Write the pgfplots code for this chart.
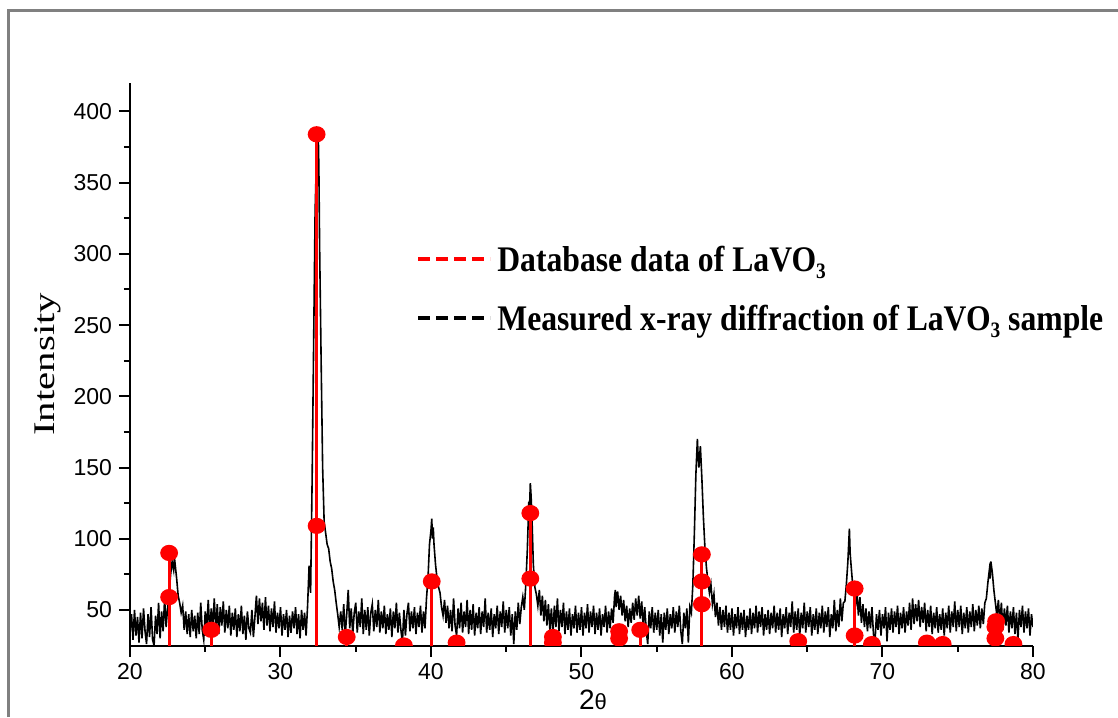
\documentclass[border=0pt]{standalone}
\usepackage{fontspec}
\setmainfont{Liberation Serif}
\setsansfont{Liberation Sans}
\usepackage{pgfplots}
\pgfplotsset{compat=1.18}

\begin{document}
\begin{tikzpicture}
\useasboundingbox (0,0) rectangle (559pt,-358.5pt);
% page frame
\draw[gray, line width=1.35pt] (4.3pt,-358.5pt) -- (4.3pt,-5.3pt) -- (559pt,-5.3pt);

\begin{axis}[
  at={(65pt,-322.75pt)}, anchor=south west,
  scale only axis, width=451.5pt, height=281.25pt,
  xmin=20, xmax=80, ymin=25, ymax=420,
  axis x line=bottom, axis y line=left,
  axis line style={-, line width=1pt},
  xtick={20,30,...,80}, ytick={50,100,...,400},
  minor x tick num=1, minor y tick num=1,
  tick align=outside,
  major tick length=5.5pt, minor tick length=3pt,
  every tick/.style={black, line width=1pt},
  tick label style={font=\sffamily\fontsize{11.5}{13}\selectfont},
  /pgf/number format/assume math mode=true,
  xlabel={\sffamily\fontsize{14}{16}\selectfont 2{\fontsize{11}{13}\selectfont θ}},
  ylabel={\fontsize{15}{17}\selectfont Intensity},
  xlabel style={at={(axis description cs:0.5127,-0.0969)}, anchor=center},
  ylabel style={at={(axis description cs:-0.0908,0.5)}, anchor=center, xscale=1.36},
  clip marker paths=true,
]
% measured diffraction pattern
\addplot[black, line width=0.8pt, mark=none] coordinates {
(20.0,34)(20.1,47)(20.2,29)(20.3,50)(20.4,32)(20.5,45)(20.6,27)(20.7,48)(20.8,30)(20.9,51)
(21.0,35)(21.1,26)(21.2,47)(21.3,31)(21.4,52)(21.5,29)(21.6,25)(21.7,46)(21.8,33)(21.9,55)
(22.0,30)(22.1,49)(22.2,35)(22.3,58)(22.4,38)(22.5,52)(22.6,62)(22.7,75)(22.8,84)(22.9,78)
(22.95,87)(23.0,82)(23.1,72)(23.2,60)(23.3,55)(23.4,48)
(23.5,53)(23.6,36)(23.7,49)(23.8,33)(23.9,47)(24.0,31)(24.1,50)(24.2,35)(24.3,46)(24.4,30)
(24.5,48)(24.6,33)(24.7,55)(24.8,36)(24.9,29)(25.0,49)(25.1,37)(25.2,57)(25.3,34)(25.4,51)
(25.5,38)(25.6,58)(25.7,36)(25.8,54)(25.9,33)(26.0,52)(26.1,39)(26.2,56)(26.3,34)(26.4,50)
(26.5,37)(26.6,53)(26.7,32)(26.8,48)(26.9,36)(27.0,51)(27.1,31)(27.2,47)(27.3,35)(27.4,53)
(27.5,33)(27.6,46)(27.7,29)(27.8,49)(27.9,37)(28.0,34)(28.1,50)(28.2,31)(28.3,45)(28.4,60)
(28.5,40)(28.6,58)(28.7,42)(28.8,55)(28.9,36)(29.0,59)(29.1,39)(29.2,53)(29.3,35)(29.4,51)
(29.5,38)(29.6,56)(29.7,34)(29.8,48)(29.9,37)(30.0,52)(30.1,32)(30.2,47)(30.3,36)(30.4,50)
(30.5,31)(30.6,46)(30.7,34)(30.8,49)(30.9,37)(31.0,52)(31.1,33)(31.2,47)(31.3,30)(31.4,50)
(31.5,36)(31.6,48)(31.7,32)(31.8,53)
(31.9,81)(32.0,62)(32.1,140)(32.2,235)(32.3,330)(32.4,372)(32.5,389)(32.55,360)(32.6,305)(32.7,225)
(32.8,150)(32.9,112)(33.0,104)(33.1,96)(33.2,93)(33.3,84)(33.4,79)(33.5,70)(33.6,64)(33.7,55)
(33.8,47)(33.9,38)
(34.0,49)(34.1,36)(34.2,54)(34.3,32)(34.4,47)(34.5,64)(34.6,37)(34.7,51)(34.8,33)(34.9,48)
(35.0,55)(35.1,34)(35.2,49)(35.3,38)(35.4,58)(35.5,33)(35.6,50)(35.7,36)(35.8,52)(35.9,32)
(36.0,48)(36.1,54)(36.2,35)(36.3,50)(36.4,38)(36.5,57)(36.6,34)(36.7,49)(36.8,37)(36.9,53)
(37.0,33)(37.1,47)(37.2,36)(37.3,51)(37.4,31)(37.5,49)(37.6,37)(37.7,55)(37.8,34)(37.9,48)
(38.0,36)(38.1,27)(38.2,50)(38.3,32)(38.4,47)(38.5,55)(38.6,35)(38.7,49)(38.8,37)(38.9,52)
(39.0,33)(39.1,48)(39.2,38)(39.3,53)(39.4,34)(39.5,49)(39.6,37)(39.7,58)
(39.8,72)(39.9,96)(40.0,106)(40.05,114)(40.1,100)(40.15,108)(40.2,96)(40.3,82)(40.4,72)(40.5,66)
(40.6,62)(40.7,52)(40.8,46)(40.9,57)(41.0,41)(41.1,53)(41.2,37)(41.3,50)(41.4,35)(41.5,58)
(41.6,39)(41.7,32)(41.8,51)(41.9,37)(42.0,55)(42.1,34)(42.2,49)(42.3,38)(42.4,57)(42.5,33)
(42.6,50)(42.7,36)(42.8,54)(42.9,32)(43.0,48)(43.1,37)(43.2,52)(43.3,33)(43.4,49)(43.5,38)
(43.6,58)(43.7,34)(43.8,48)(43.9,36)(44.0,51)(44.1,31)(44.2,47)(44.3,37)(44.4,53)(44.5,33)
(44.6,49)(44.7,38)(44.8,56)(44.9,34)(45.0,50)(45.1,37)(45.2,52)(45.3,32)(45.4,47)(45.5,26)
(45.6,49)(45.7,36)(45.8,55)(45.9,40)(46.0,52)(46.1,59)(46.2,50)(46.3,68)(46.4,92)(46.5,126)
(46.55,122)(46.6,139)(46.65,130)(46.7,118)(46.75,100)(46.8,82)(46.9,66)(47.0,61)
(47.1,53)(47.2,64)(47.3,46)(47.4,60)(47.5,42)(47.6,57)(47.7,39)(47.8,54)(47.9,36)(48.0,51)
(48.1,33)(48.2,53)(48.3,38)(48.4,58)(48.5,35)(48.6,50)(48.7,38)(48.8,55)(48.9,33)(49.0,49)
(49.1,36)(49.2,51)(49.3,32)(49.4,47)(49.5,37)(49.6,53)(49.7,34)(49.8,48)(49.9,36)(50.0,52)
(50.1,32)(50.2,48)(50.3,37)(50.4,54)(50.5,34)(50.6,49)(50.7,38)(50.8,53)(50.9,33)(51.0,48)
(51.1,36)(51.2,51)(51.3,32)(51.4,47)(51.5,38)(51.6,53)(51.7,34)(51.8,49)(51.9,37)(52.0,51)
(52.1,41)(52.2,60)(52.25,64)(52.3,52)(52.4,63)(52.5,50)(52.6,60)(52.7,46)(52.8,57)(52.9,42)
(53.0,53)(53.1,38)(53.2,51)(53.3,41)(53.4,55)(53.5,43)(53.6,58)(53.7,46)(53.8,60)(53.9,44)
(54.0,56)(54.1,38)(54.2,52)(54.3,36)(54.4,26)(54.5,49)(54.6,37)(54.7,52)(54.8,34)(54.9,48)
(55.0,36)(55.1,50)(55.2,32)(55.3,47)(55.4,27)(55.5,48)(55.6,36)(55.7,51)(55.8,33)(55.9,47)
(56.0,37)(56.1,52)(56.2,34)(56.3,49)(56.4,38)(56.5,53)(56.6,35)(56.7,26)(56.8,48)(56.9,37)
(57.0,51)(57.1,27)(57.2,52)(57.3,48)(57.4,68)
(57.5,104)(57.6,145)(57.7,170)(57.75,158)(57.8,150)(57.9,165)(58.0,142)(58.1,115)(58.2,94)(58.3,80)
(58.4,70)(58.5,62)(58.6,68)(58.7,54)(58.8,61)(58.9,45)(59.0,55)
(59.1,39)(59.2,52)(59.3,36)(59.4,50)(59.5,38)(59.6,53)(59.7,34)(59.8,48)(59.9,36)(60.0,51)
(60.1,32)(60.2,47)(60.3,37)(60.4,52)(60.5,33)(60.6,48)(60.7,36)(60.8,50)(60.9,31)(61.0,46)
(61.1,36)(61.2,51)(61.3,33)(61.4,48)(61.5,37)(61.6,53)(61.7,34)(61.8,49)(61.9,38)(62.0,52)
(62.1,32)(62.2,47)(62.3,36)(62.4,50)(62.5,33)(62.6,48)(62.7,37)(62.8,53)(62.9,34)(63.0,48)
(63.1,36)(63.2,51)(63.3,31)(63.4,47)(63.5,37)(63.6,52)(63.7,33)(63.8,48)(63.9,38)(64.0,56)
(64.1,34)(64.2,49)(64.3,36)(64.4,51)(64.5,32)(64.6,48)(64.7,37)(64.8,55)(64.9,34)(65.0,49)
(65.1,38)(65.2,52)(65.3,32)(65.4,47)(65.5,36)(65.6,51)(65.7,33)(65.8,48)(65.9,37)(66.0,53)
(66.1,34)(66.2,49)(66.3,38)(66.4,52)(66.5,31)(66.6,47)(66.7,37)(66.8,57)(66.9,35)(67.0,50)
(67.1,38)(67.2,58)(67.3,42)(67.4,55)(67.5,56)(67.6,68)(67.7,84)(67.8,107)(67.85,90)(67.9,83)
(68.0,70)(68.1,60)(68.2,52)(68.3,63)(68.4,46)(68.5,59)(68.6,41)(68.7,54)(68.8,38)(68.9,51)
(69.0,35)(69.1,49)(69.2,37)(69.3,52)(69.4,33)(69.5,27)(69.6,47)(69.7,36)(69.8,50)(69.9,32)
(70.0,47)(70.1,37)(70.2,52)(70.3,28)(70.4,48)(70.5,36)(70.6,51)(70.7,34)(70.8,49)(70.9,38)
(71.0,53)(71.1,33)(71.2,48)(71.3,37)(71.4,52)(71.5,34)(71.6,49)(71.7,39)(71.8,55)(71.9,36)
(72.0,58)(72.1,40)(72.2,54)(72.3,42)(72.4,57)(72.5,38)(72.6,52)(72.7,41)(72.8,55)(72.9,35)
(73.0,50)(73.1,38)(73.2,53)(73.3,33)(73.4,48)(73.5,37)(73.6,52)(73.7,34)(73.8,47)(73.9,36)
(74.0,51)(74.1,32)(74.2,48)(74.3,37)(74.4,53)(74.5,34)(74.6,49)(74.7,38)(74.8,56)(74.9,35)
(75.0,50)(75.1,38)(75.2,53)(75.3,33)(75.4,48)(75.5,37)(75.6,52)(75.7,34)(75.8,49)(75.9,38)
(76.0,54)(76.1,35)(76.2,50)(76.3,39)(76.4,53)(76.5,37)(76.6,51)(76.7,40)(76.8,55)(76.9,58)
(77.0,69)(77.1,78)(77.15,72)(77.2,84)(77.25,80)(77.3,76)(77.4,64)(77.5,55)
(77.6,46)(77.7,57)(77.8,40)(77.9,55)(78.0,36)(78.1,51)(78.2,39)(78.3,53)(78.4,34)(78.5,49)
(78.6,37)(78.7,52)(78.8,33)(78.9,48)(79.0,29)(79.1,50)(79.2,38)(79.3,53)(79.4,34)(79.5,49)
(79.6,37)(79.7,51)(79.8,32)(79.9,47)(80.0,38)
};
% reference reflections
\addplot[ycomb, red, line width=1.5pt, mark=*, mark size=3.3pt,
  mark options={fill=red, draw=red, xscale=1.12}] coordinates {
(22.6,90)(22.6,59)(25.4,36)(32.4,384)(32.4,109)(34.4,31)(38.2,25)(40.05,70)
(41.7,27)(46.6,118)(46.6,72)(48.1,31)(48.1,27)(52.5,35)(52.5,30)(53.9,36)
(58.0,89)(58.0,70)(58.0,54)(64.4,28)(68.15,65)(68.15,32)(69.3,26)(72.95,27)
(74.0,26)(77.55,42)(77.5,38)(77.5,30)(78.7,26)
};
\end{axis}

% key
\draw[red, line width=1.6pt, dash pattern=on 6pt off 3pt] (209pt,-129.5pt) -- (245pt,-129.5pt);
\node[anchor=base west, inner sep=0, xscale=0.88, font=\bfseries\fontsize{18}{21}\selectfont]
  at (248.5pt,-135.5pt) {Database data of LaVO\raisebox{-0.45ex}{\fontsize{11}{12}\selectfont 3}};
\draw[black, line width=1.6pt, dash pattern=on 6pt off 3pt] (209pt,-159pt) -- (245pt,-159pt);
\node[anchor=base west, inner sep=0, xscale=0.88, font=\bfseries\fontsize{18}{21}\selectfont]
  at (248.5pt,-165pt) {Measured x-ray diffraction of LaVO\raisebox{-0.45ex}{\fontsize{11}{12}\selectfont 3} sample};
\end{tikzpicture}
\end{document}
